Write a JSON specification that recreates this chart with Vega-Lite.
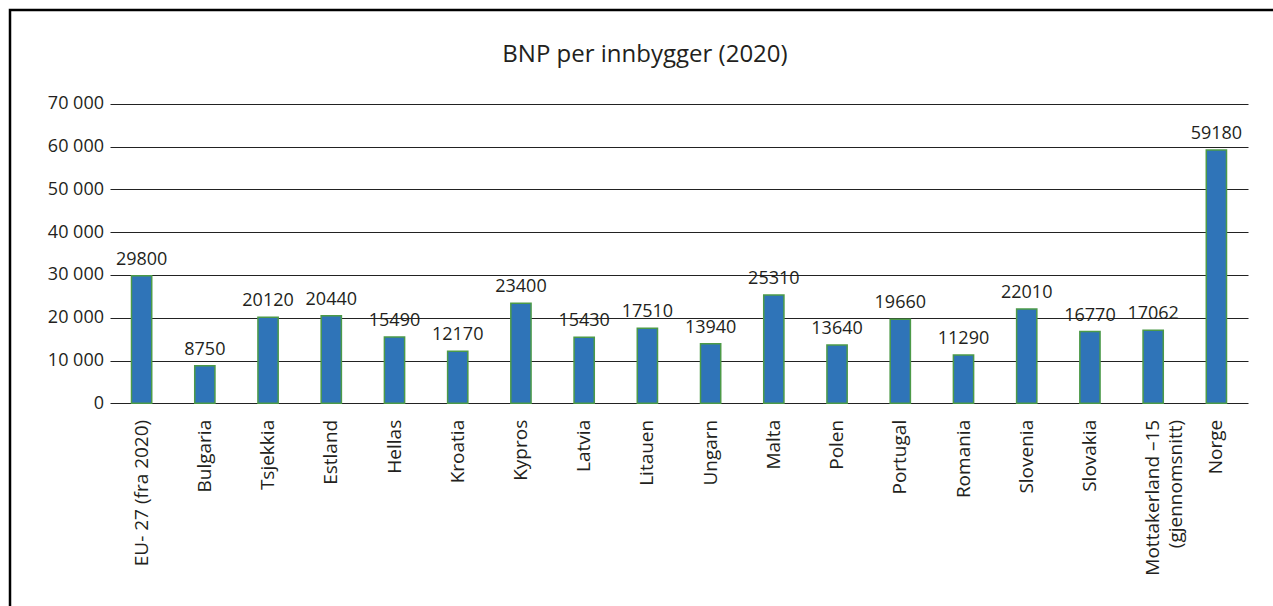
{
  "$schema": "https://vega.github.io/schema/vega-lite/v6.json",
  "autosize": {"type": "none"},
  "width": 1270,
  "height": 603,
  "padding": {"left": 10, "top": 10, "right": -7, "bottom": -7},
  "background": "white",
  "config": {
    "font": "Open Sans",
    "view": {"stroke": "black", "strokeWidth": 2.5},
    "locale": {"number": {"decimal": ",", "thousands": " ", "grouping": [3], "currency": ["", ""]}}
  },
  "title": {
    "text": "BNP per innbygger (2020)",
    "anchor": "middle",
    "frame": "group",
    "orient": "top",
    "offset": -76,
    "baseline": "alphabetic",
    "font": "Open Sans",
    "fontSize": 24,
    "fontWeight": "normal",
    "color": "#231f20"
  },
  "data": {
    "values": [
      {"land": "EU- 27 (fra 2020)", "bnp": 29800},
      {"land": "Bulgaria", "bnp": 8750},
      {"land": "Tsjekkia", "bnp": 20120},
      {"land": "Estland", "bnp": 20440},
      {"land": "Hellas", "bnp": 15490},
      {"land": "Kroatia", "bnp": 12170},
      {"land": "Kypros", "bnp": 23400},
      {"land": "Latvia", "bnp": 15430},
      {"land": "Litauen", "bnp": 17510},
      {"land": "Ungarn", "bnp": 13940},
      {"land": "Malta", "bnp": 25310},
      {"land": "Polen", "bnp": 13640},
      {"land": "Portugal", "bnp": 19660},
      {"land": "Romania", "bnp": 11290},
      {"land": "Slovenia", "bnp": 22010},
      {"land": "Slovakia", "bnp": 16770},
      {"land": "Mottakerland –15 (gjennomsnitt)", "bnp": 17062},
      {"land": "Norge", "bnp": 59180}
    ]
  },
  "encoding": {
    "x": {
      "field": "land",
      "type": "nominal",
      "sort": null,
      "scale": {"range": [100, 1238], "paddingInner": 0.68, "paddingOuter": 0.34},
      "axis": {
        "title": null,
        "orient": "bottom",
        "offset": -209.7,
        "domain": false,
        "ticks": false,
        "tickSize": 0,
        "labelAngle": -90,
        "labelAlign": "right",
        "labelBaseline": "middle",
        "labelPadding": 16,
        "labelFontSize": 19,
        "labelFont": "Open Sans",
        "labelColor": "#231f20",
        "labelLineHeight": 23,
        "labelLimit": 400,
        "labelExpr": "datum.value == 'Mottakerland –15 (gjennomsnitt)' ? ['Mottakerland –15', '(gjennomsnitt)'] : datum.label"
      }
    },
    "y": {
      "field": "bnp",
      "type": "quantitative",
      "scale": {"domain": [0, 70000], "range": [393.3, 93.7], "nice": false, "zero": true},
      "axis": {
        "title": null,
        "orient": "left",
        "offset": -100,
        "values": [0, 10000, 20000, 30000, 40000, 50000, 60000, 70000],
        "format": ",d",
        "domain": false,
        "ticks": false,
        "tickSize": 0,
        "labelPadding": 6.5,
        "labelFontSize": 18,
        "labelFont": "Open Sans",
        "labelColor": "#231f20",
        "grid": true,
        "gridColor": "#222222",
        "gridWidth": 1,
        "gridOpacity": 1
      }
    }
  },
  "layer": [
    {
      "mark": {"type": "bar", "fill": "#2f74b8", "stroke": "#4c9a48", "strokeWidth": 1.5}
    },
    {
      "mark": {"type": "text", "baseline": "alphabetic", "dy": -11, "fontSize": 18, "font": "Open Sans", "color": "#231f20"},
      "encoding": {"text": {"field": "bnp", "type": "quantitative", "format": "d"}}
    }
  ]
}
